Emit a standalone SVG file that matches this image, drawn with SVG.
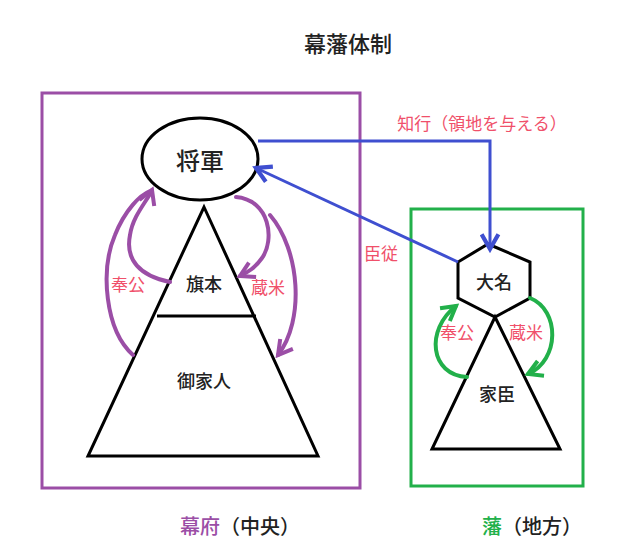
<svg xmlns="http://www.w3.org/2000/svg" width="628" height="559" viewBox="0 0 628 559">
<style>
text{font-family:"Noto Sans CJK JP",sans-serif;text-anchor:middle;dominant-baseline:central}
.k{fill:#222;font-size:18px;font-weight:500}
.r{fill:#f0506a;font-size:17px}
.s{fill:none;stroke:#000;stroke-width:3}
.p{fill:none;stroke:#9b4ea6;stroke-width:4;stroke-linecap:round}
.g{fill:none;stroke:#22b04a;stroke-width:4;stroke-linecap:round}
.b{fill:none;stroke:#3f4fd0;stroke-width:3}
</style>
<defs>
<marker id="ap" viewBox="0 0 10 10" refX="8" refY="5" markerWidth="5" markerHeight="5" orient="auto"><path d="M1,1 L8,5 L1,9" fill="none" stroke="#9b4ea6" stroke-width="2"/></marker>
<marker id="ag" viewBox="0 0 10 10" refX="8" refY="5" markerWidth="5" markerHeight="5" orient="auto"><path d="M1,1 L8,5 L1,9" fill="none" stroke="#22b04a" stroke-width="2"/></marker>
<marker id="ab" viewBox="0 0 10 10" refX="8" refY="5" markerWidth="7" markerHeight="7" orient="auto"><path d="M1,1 L8,5 L1,9" fill="none" stroke="#3f4fd0" stroke-width="2"/></marker>
</defs>
<rect width="628" height="559" fill="#fff"/>
<text x="348" y="42" class="k" style="font-size:22px">幕藩体制</text>
<rect x="42" y="93" width="318" height="395" fill="none" stroke="#9b4ea6" stroke-width="3"/>
<rect x="411" y="209" width="172" height="277" fill="none" stroke="#22b04a" stroke-width="3"/>
<g id="shogun"><ellipse cx="200" cy="159" rx="58" ry="41" class="s"/><text x="200" y="159" class="k" style="font-size:24px">将軍</text></g>
<g id="bakufu-tri"><path d="M204,207 L318,456 L88,456 Z M157,316 L256,316" class="s"/>
<text x="204" y="283" class="k">旗本</text><text x="204" y="380" class="k">御家人</text></g>
<g id="daimyo"><path d="M488,244 L530,262 L530,298 L495,317 L458,298 L458,262 Z" class="s"/><text x="494" y="281" class="k">大名</text></g>
<g id="kashin"><path d="M495,317 L560,449 L432,449 Z" class="s"/><text x="497" y="393" class="k">家臣</text></g>
<g id="connectors">
<path d="M258,141 L490,141 L490,249" class="b" marker-end="url(#ab)"/>
<path d="M458,262 L256,168" class="b" marker-end="url(#ab)"/>
<path d="M170,282 C140,276 125,260 130,235 C133,215 148,200 152,190" class="p" marker-end="url(#ap)"/>
<path d="M133,355 C105,330 100,270 115,235 C125,210 140,195 150,191" class="p"/>
<path d="M236,197 C270,200 275,240 262,258 C255,268 248,272 240,276" class="p" marker-end="url(#ap)"/>
<path d="M270,215 C300,250 305,320 278,355" class="p" marker-end="url(#ap)"/>
<path d="M467,377 C430,375 425,330 456,306" class="g" marker-end="url(#ag)"/>
<path d="M530,298 C560,310 560,360 528,374" class="g" marker-end="url(#ag)"/>
</g>
<text x="482" y="122" class="r">知行（領地を与える）</text>
<text x="381" y="252" class="r">臣従</text>
<text x="128" y="283" class="r">奉公</text>
<text x="268" y="286" class="r">蔵米</text>
<text x="457" y="331" class="r">奉公</text>
<text x="526" y="331" class="r">蔵米</text>
<text x="240" y="525" class="k" style="font-size:20px"><tspan fill="#9b4ea6">幕府</tspan>（中央）</text>
<text x="532" y="525" class="k" style="font-size:20px"><tspan fill="#22b04a">藩</tspan>（地方）</text>
</svg>
